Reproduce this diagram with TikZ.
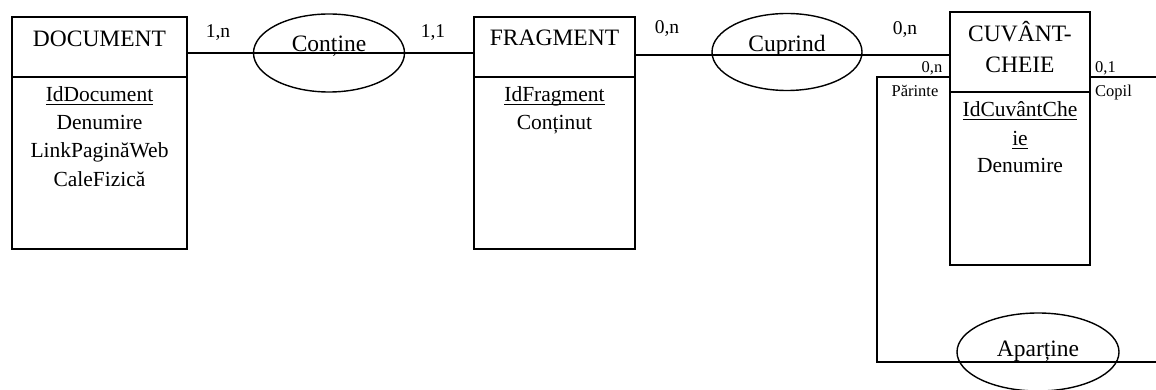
\documentclass[tikz,border=0pt]{standalone}
\usepackage{fontspec}
\setmainfont{Liberation Serif}
\usetikzlibrary{shapes.geometric}
% key attributes: a rule at a fixed depth, crossing any descenders
\newcommand\keyattr[1]{\setbox0\hbox{#1}\rlap{\rule[-3.4pt]{\wd0}{1.1pt}}\box0}
\begin{document}
\begin{tikzpicture}[x=1pt,y=-1pt,
  entity/.style={draw, line width=1.6pt, rectangle, inner sep=0pt, outer sep=0pt, anchor=north west},
  divider/.style={line width=1.6pt},
  rel/.style={draw, ellipse, line width=1.4pt, inner sep=0pt, outer sep=0pt},
  conn/.style={line width=1.4pt},
  title/.style={inner sep=0pt, anchor=base, font=\fontsize{23.5}{28}\selectfont},
  reltxt/.style={inner sep=0pt, anchor=base, font=\fontsize{23.5}{28}\selectfont},
  attr/.style={inner sep=0pt, anchor=base, font=\fontsize{21.5}{26}\selectfont},
  card/.style={inner sep=0pt, anchor=base, font=\fontsize{19.5}{23}\selectfont},
  role/.style={inner sep=0pt, anchor=base, font=\fontsize{16.5}{20}\selectfont},
]
\useasboundingbox (0,0) rectangle (1156,390);

% entities
\node[entity, minimum width=175pt, minimum height=232pt] (doc) at (12,17) {};
\node[entity, minimum width=161pt, minimum height=232pt] (frag) at (474,17) {};
\node[entity, minimum width=140pt, minimum height=253pt] (cuv) at (950,12) {};

\draw[divider] ([yshift=-60pt]doc.north west) -- ([yshift=-60pt]doc.north east);
\draw[divider] ([yshift=-60pt]frag.north west) -- ([yshift=-60pt]frag.north east);
\draw[divider] ([yshift=-80pt]cuv.north west) -- ([yshift=-80pt]cuv.north east);

% entity titles
\node[title] (doctitle) at (99.5,47) {DOCUMENT};
\node[title] (fragtitle) at (554.5,46) {FRAGMENT};
\node[title] (cuvtitle1) at (1020,42) {CUVÂNT-};
\node[title] (cuvtitle2) at (1020,73) {CHEIE};

% attributes
\node[attr] (docid) at (99.5,102) {\keyattr{IdDocument}};
\node[attr] (docden) at (99.5,130) {Denumire};
\node[attr] (doclink) at (99.5,158) {LinkPaginăWeb};
\node[attr] (doccale) at (99.5,187) {CaleFizică};

\node[attr] (fragid) at (554.5,102) {\keyattr{IdFragment}};
\node[attr] (fragcont) at (554.5,130) {Conținut};

\node[attr] (cuvid1) at (1020,117) {\keyattr{IdCuvântChe}};
\node[attr] (cuvid2) at (1020,146) {\keyattr{ie}};
\node[attr] (cuvden) at (1020,173) {Denumire};

% relationships
\node[rel, minimum width=151pt, minimum height=78pt] (contine) at (329,53) {};
\node[reltxt] (continetxt) at (329,51.5) {Conține};
\node[rel, minimum width=150pt, minimum height=77pt] (cuprind) at (787,52) {};
\node[reltxt] (cuprindtxt) at (787,51.5) {Cuprind};
\node[rel, minimum width=162pt, minimum height=78pt] (apartine) at (1038,352) {};
\node[reltxt] (apartinetxt) at (1038,356) {Aparține};

% connectors
\coordinate (parbend) at (877,77);
\coordinate (apbend) at (877,362);
\coordinate (apend) at (1156,362);
\coordinate (copend) at (1156,77);
\coordinate (cupline) at (787,55);

\draw[conn] (doc.east |- contine.center) -- (contine.center) -- (frag.west |- contine.center);
\draw[conn] (frag.east |- cupline) -- (cupline) -- (cuv.west |- cupline);
\draw[conn] (cuv.west |- parbend) -- (parbend) -- (apbend) -- (apend);
\draw[conn] (cuv.east |- copend) -- (copend);

% cardinalities
\node[card] (c1) at (218,38) {1,n};
\node[card] (c2) at (433,38) {1,1};
\node[card] (c3) at (667,34) {0,n};
\node[card] (c4) at (905,35) {0,n};

% roles of the recursive link
\node[role] (r1) at (932,73) {0,n};
\node[role] (r2) at (915,97) {Părinte};
\node[role, anchor=base west] (r3) at (1095,73) {0,1};
\node[role, anchor=base west] (r4) at (1095,97) {Copil};
\end{tikzpicture}
\end{document}
